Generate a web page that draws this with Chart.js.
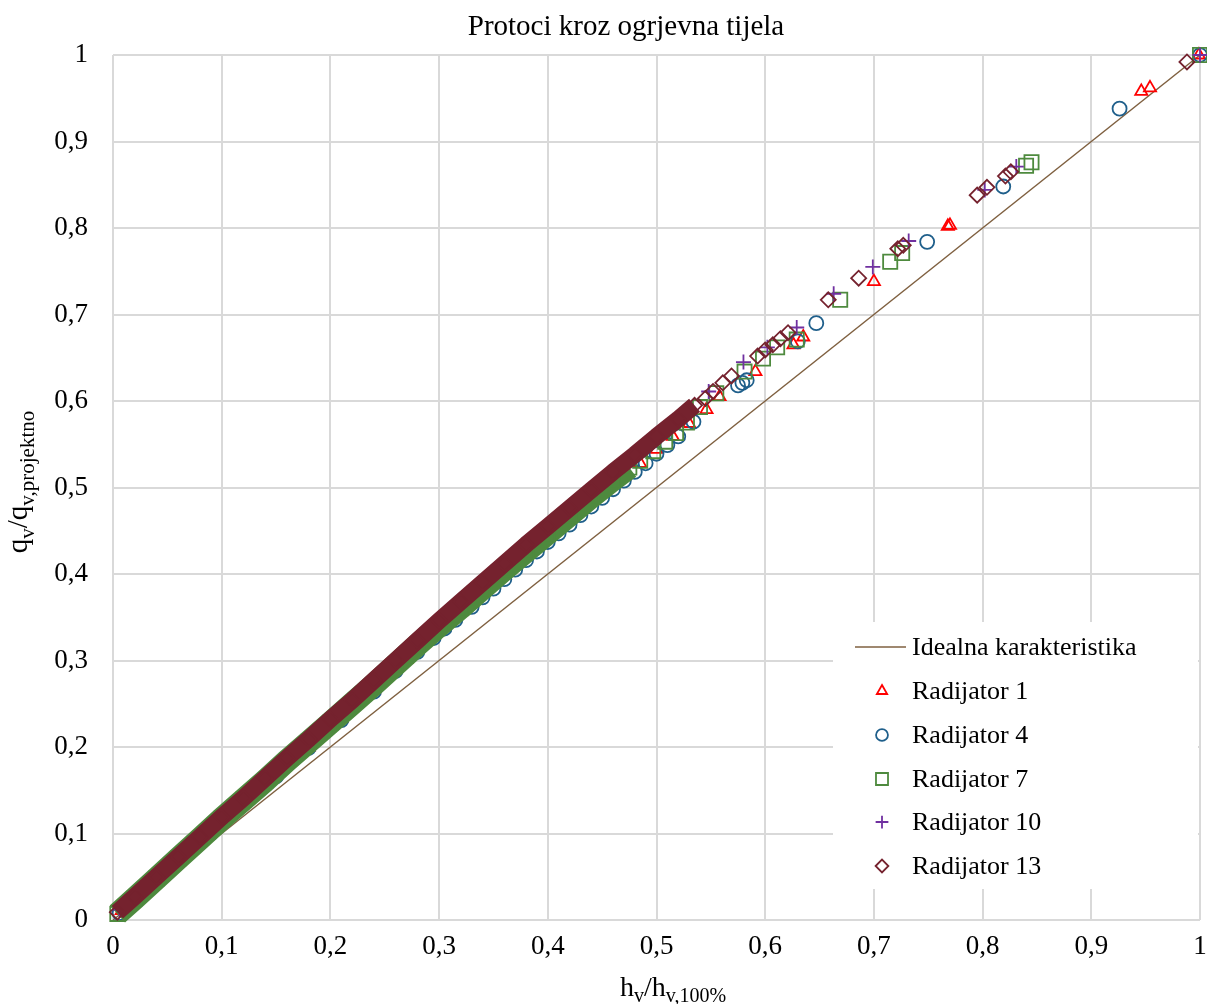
<!DOCTYPE html>
<html>
<head>
<meta charset="utf-8">
<title>Protoci kroz ogrjevna tijela</title>
<script src="https://cdn.jsdelivr.net/npm/chart.js@4/dist/chart.umd.min.js"></script>
<style>
  html, body { margin: 0; padding: 0; background: #fff; }
  #wrap { width: 1207px; height: 1004px; }
</style>
</head>
<body>
<div id="wrap"><canvas id="protociChart" width="1207" height="1004"></canvas></div>
<script>
const chartTitle = 'Protoci kroz ogrjevna tijela';
const tickLabels = ['0', '0,1', '0,2', '0,3', '0,4', '0,5', '0,6', '0,7', '0,8', '0,9', '1'];
const seriesNames = ['Idealna karakteristika', 'Radijator 1', 'Radijator 4', 'Radijator 7', 'Radijator 10', 'Radijator 13'];

// idealna karakteristika q = h
const idealH = [0, 1];
const idealQ = [0, 1];

// Radijator 1
const rad1H = [0.008, 0.03, 0.06, 0.09, 0.12, 0.15, 0.18, 0.21, 0.24, 0.27, 0.3, 0.33, 0.36, 0.39, 0.41, 0.43, 0.45, 0.47, 0.485, 0.5, 0.515, 0.53,
  0.546, 0.558, 0.591, 0.626, 0.635, 0.7, 0.768, 0.77, 0.946, 0.954, 0.999];
const rad1Q = [0.011, 0.033, 0.068, 0.102, 0.135, 0.168, 0.2, 0.233, 0.266, 0.301, 0.334, 0.366, 0.399, 0.431, 0.452, 0.472, 0.493, 0.513, 0.528, 0.544, 0.559, 0.574,
  0.59, 0.605, 0.634, 0.665, 0.674, 0.738, 0.802, 0.803, 0.958, 0.962, 1];

// Radijator 4
const rad4H = [0.006, 0.03, 0.06, 0.09, 0.12, 0.15, 0.18, 0.21, 0.24, 0.26, 0.28, 0.295, 0.305, 0.315, 0.33, 0.34, 0.35, 0.36, 0.37, 0.38, 0.39, 0.4,
  0.41, 0.42, 0.43, 0.44, 0.45, 0.46, 0.47, 0.48, 0.49, 0.5, 0.51, 0.52, 0.534,
  0.575, 0.579, 0.583, 0.63, 0.647, 0.749, 0.819, 0.926, 1];
const rad4Q = [0.008, 0.033, 0.067, 0.1, 0.134, 0.166, 0.199, 0.231, 0.264, 0.288, 0.31, 0.326, 0.337, 0.347, 0.362, 0.373, 0.383, 0.394, 0.405, 0.416, 0.426, 0.437,
  0.447, 0.457, 0.468, 0.478, 0.488, 0.498, 0.508, 0.518, 0.528, 0.539, 0.549, 0.559, 0.576,
  0.618, 0.621, 0.624, 0.669, 0.69, 0.784, 0.848, 0.938, 1];

// Radijator 7
const rad7H = [0.004, 0.02, 0.04, 0.06, 0.08, 0.1, 0.12, 0.14, 0.16, 0.18, 0.2, 0.22, 0.24, 0.26, 0.28, 0.3, 0.32, 0.34, 0.36, 0.38, 0.4, 0.42, 0.44, 0.46, 0.475,
  0.485, 0.497, 0.508, 0.518, 0.528, 0.54, 0.555, 0.581, 0.598, 0.611, 0.629, 0.669, 0.715, 0.726, 0.84, 0.845, 1];
const rad7Q = [0.007, 0.025, 0.048, 0.071, 0.094, 0.117, 0.139, 0.161, 0.184, 0.206, 0.228, 0.25, 0.272, 0.295, 0.318, 0.34, 0.361, 0.383, 0.405, 0.426, 0.447, 0.468, 0.489, 0.509, 0.523,
  0.531, 0.542, 0.553, 0.563, 0.575, 0.593, 0.609, 0.634, 0.649, 0.662, 0.671, 0.717, 0.761, 0.771, 0.872, 0.876, 1];

// Radijator 10
const rad10H = [0.006, 0.04, 0.07, 0.1, 0.13, 0.16, 0.19, 0.22, 0.25, 0.28, 0.31, 0.34, 0.37, 0.4, 0.43, 0.46, 0.49, 0.52,
  0.548, 0.58, 0.602, 0.629, 0.663, 0.699, 0.732, 0.802, 0.831, 1];
const rad10Q = [0.012, 0.051, 0.085, 0.12, 0.153, 0.187, 0.221, 0.255, 0.289, 0.324, 0.358, 0.391, 0.424, 0.456, 0.487, 0.519, 0.549, 0.58,
  0.611, 0.645, 0.662, 0.685, 0.724, 0.755, 0.785, 0.844, 0.871, 1];

// Radijator 13
const rad13H = [0.004, 0.02, 0.04, 0.06, 0.08, 0.1, 0.12, 0.14, 0.16, 0.18, 0.2, 0.22, 0.24, 0.26, 0.28, 0.3, 0.32, 0.34, 0.36, 0.38, 0.4, 0.42, 0.44, 0.46, 0.48, 0.5, 0.52, 0.535,
  0.545, 0.552, 0.561, 0.569, 0.593, 0.6, 0.607, 0.614, 0.621, 0.658, 0.686, 0.722, 0.727, 0.795, 0.804, 0.821, 0.826, 0.988];
const rad13Q = [0.009, 0.027, 0.05, 0.073, 0.096, 0.119, 0.141, 0.164, 0.187, 0.209, 0.232, 0.254, 0.277, 0.3, 0.323, 0.346, 0.368, 0.39, 0.412, 0.434, 0.455, 0.476, 0.497, 0.518, 0.538, 0.559, 0.579, 0.595,
  0.603, 0.611, 0.621, 0.629, 0.652, 0.659, 0.665, 0.672, 0.679, 0.717, 0.742, 0.776, 0.78, 0.838, 0.847, 0.86, 0.865, 0.992];

const FONT = '"Times New Roman", "Liberation Serif", serif';
const colors = {
  ideal: '#7F6040',
  r1: '#FF0000',
  r4: '#1F5F8B',
  r7: '#4E8A3E',
  r10: '#7030A0',
  r13: '#75222E'
};

function toPoints(hs, qs) {
  return hs.map((h, i) => ({ x: h, y: qs[i] }));
}

// the measured points overlap so much at low opening that they read as a solid band
function denseBand(color, limit) {
  return {
    borderColor: c => (c.p1.parsed.x <= limit ? color : 'rgba(0,0,0,0)')
  };
}

function markerSet(label, hs, qs, color, style, radius, order) {
  return {
    label: label,
    data: toPoints(hs, qs),
    showLine: false,
    pointStyle: style,
    pointRadius: radius,
    pointBorderColor: color,
    pointBackgroundColor: 'rgba(0,0,0,0)',
    pointBorderWidth: 1.8,
    borderColor: color,
    clip: false,
    order: order
  };
}

const r7 = markerSet(seriesNames[3], rad7H, rad7Q, colors.r7, 'rect', 10, 3);
r7.showLine = true;
r7.borderWidth = 23;
r7.borderJoinStyle = 'round';
r7.segment = denseBand(colors.r7, 0.476);

const r13 = markerSet(seriesNames[5], rad13H, rad13Q, colors.r13, 'rectRot', 7.5, 1);
r13.showLine = true;
r13.borderWidth = 17;
r13.borderJoinStyle = 'round';
r13.segment = denseBand(colors.r13, 0.536);

const datasets = [
  {
    label: seriesNames[0],
    data: toPoints(idealH, idealQ),
    showLine: true,
    borderColor: colors.ideal,
    borderWidth: 1.5,
    pointRadius: 0,
    clip: false,
    order: 6
  },
  markerSet(seriesNames[1], rad1H, rad1Q, colors.r1, 'triangle', 7, 5),
  markerSet(seriesNames[2], rad4H, rad4Q, colors.r4, 'circle', 7, 4),
  r7,
  markerSet(seriesNames[4], rad10H, rad10Q, colors.r10, 'cross', 7.5, 2),
  r13
];

// text with subscripts, e.g. h_v / h_v,100%
function drawRich(ctx, parts, cx, baseY, mainSize, subSize, subShift) {
  let widths = parts.map(p => {
    ctx.font = (p[1] ? subSize : mainSize) + 'px ' + FONT;
    return ctx.measureText(p[0]).width;
  });
  let total = widths.reduce((a, b) => a + b, 0);
  let x = cx - total / 2;
  ctx.textAlign = 'left';
  ctx.textBaseline = 'alphabetic';
  parts.forEach((p, i) => {
    ctx.font = (p[1] ? subSize : mainSize) + 'px ' + FONT;
    ctx.fillText(p[0], x, baseY + (p[1] ? subShift : 0));
    x += widths[i];
  });
}

const decorations = {
  id: 'decorations',
  afterDraw(chart) {
    const ctx = chart.ctx;
    ctx.save();
    ctx.fillStyle = '#000';

    // title
    ctx.font = '29px ' + FONT;
    ctx.textAlign = 'center';
    ctx.textBaseline = 'middle';
    ctx.fillText(chartTitle, 626, 27);

    // axis titles
    drawRich(ctx, [['h', false], ['v', true], ['/h', false], ['v,100%', true]], 673, 996, 28, 20, 6);
    ctx.save();
    ctx.translate(27, 482);
    ctx.rotate(-Math.PI / 2);
    drawRich(ctx, [['q', false], ['v', true], ['/q', false], ['v,projektno', true]], 0, 0, 29, 21, 7);
    ctx.restore();

    // legend inside the plot
    ctx.fillStyle = '#fff';
    ctx.fillRect(833, 622, 365, 267);
    const rowY = [647, 691, 735, 779, 822, 866];
    const dsList = chart.data.datasets;
    ctx.font = '26px ' + FONT;
    ctx.textAlign = 'left';
    ctx.textBaseline = 'middle';
    seriesNames.forEach((name, i) => {
      const y = rowY[i];
      if (i === 0) {
        ctx.strokeStyle = colors.ideal;
        ctx.lineWidth = 1.5;
        ctx.beginPath();
        ctx.moveTo(855, y);
        ctx.lineTo(906, y);
        ctx.stroke();
      } else {
        const ds = dsList[i];
        ctx.strokeStyle = ds.pointBorderColor;
        ctx.fillStyle = 'rgba(0,0,0,0)';
        ctx.lineWidth = 1.8;
        Chart.helpers.drawPoint(ctx, {
          pointStyle: ds.pointStyle,
          radius: ds.pointRadius * 0.85,
          rotation: 0,
          borderWidth: 1.8
        }, 882, y);
      }
      ctx.fillStyle = '#000';
      ctx.fillText(name, 912, y + 1);
    });
    ctx.restore();
  }
};

const axisFont = { family: FONT, size: 27 };

new Chart(document.getElementById('protociChart'), {
  type: 'scatter',
  data: { datasets: datasets },
  options: {
    responsive: false,
    animation: false,
    events: [],
    layout: { autoPadding: false, padding: { top: 55, right: 7, bottom: 0, left: 0 } },
    plugins: {
      legend: { display: false },
      title: { display: false },
      tooltip: { enabled: false }
    },
    scales: {
      x: {
        type: 'linear',
        min: 0,
        max: 1,
        afterFit: s => { s.height = 84; s.paddingLeft = 0; s.paddingRight = 0; },
        border: { display: false },
        grid: { color: '#D9D9D9', lineWidth: 2, drawTicks: false },
        ticks: {
          stepSize: 0.1,
          padding: 11,
          color: '#000',
          font: axisFont,
          maxRotation: 0,
          autoSkip: false,
          callback: (v, i) => tickLabels[i]
        }
      },
      y: {
        type: 'linear',
        min: 0,
        max: 1,
        afterFit: s => { s.width = 113; s.paddingTop = 0; s.paddingBottom = 0; },
        border: { display: false },
        grid: { color: '#D9D9D9', lineWidth: 2, drawTicks: false },
        ticks: {
          stepSize: 0.1,
          padding: 25,
          color: '#000',
          font: axisFont,
          autoSkip: false,
          callback: (v, i) => tickLabels[i]
        }
      }
    }
  },
  plugins: [decorations]
});
</script>
</body>
</html>
